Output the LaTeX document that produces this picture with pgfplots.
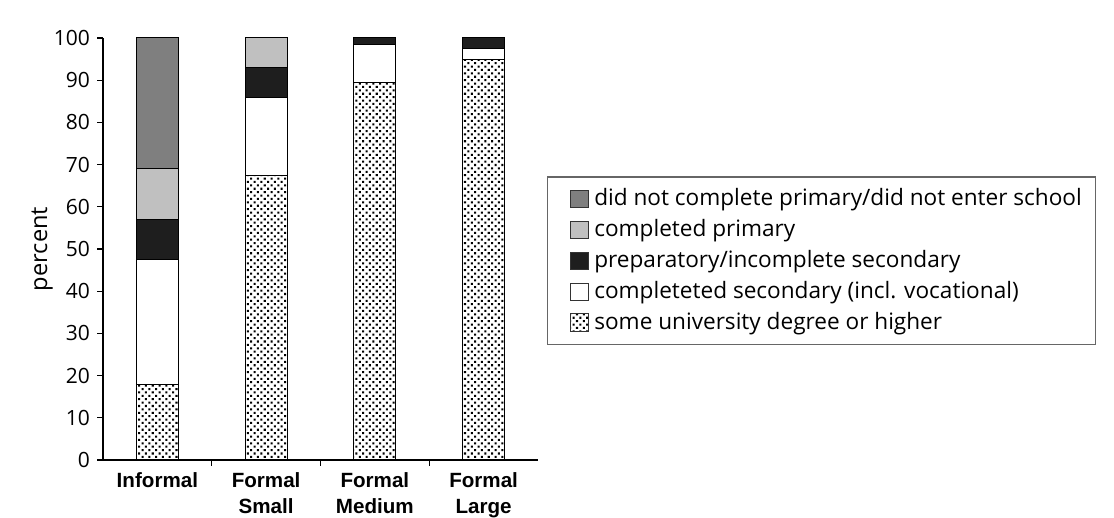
\documentclass[border=0pt]{standalone}
\usepackage{fontspec}
\setmainfont{Open Sans}
\newfontfamily\catfont{Liberation Sans}
\usepackage{pgfplots}
\pgfplotsset{compat=1.18}
\usetikzlibrary{patterns.meta}
\definecolor{dgray}{HTML}{7F7F7F}
\definecolor{lgray}{HTML}{C0C0C0}
\definecolor{nblack}{HTML}{1E1E1E}
\begin{document}
\begin{tikzpicture}
\useasboundingbox (0,0) rectangle (557pt,259pt);
\begin{axis}[
  at={(51.5pt,29pt)}, anchor=south west,
  scale only axis, width=217.5pt, height=211pt,
  ybar stacked, bar width=21pt,
  xmin=-0.5, xmax=3.5, ymin=0, ymax=100,
  enlargelimits=false,
  axis lines*=left,
  axis line style={black, line width=0.6pt},
  tick style={black, line width=0.6pt},
  tick align=outside,
  major tick length=3pt,
  ytick={0,10,...,100},
  xtick={0.5,1.5,2.5},
  xticklabels={},
  extra x ticks={0,1,2,3},
  extra x tick labels={Informal,{Formal\\Small},{Formal\\Medium},{Formal\\Large}},
  extra x tick style={major tick length=0pt, tick label style={font=\catfont\bfseries\fontsize{10.3}{13}\selectfont, align=center, anchor=north, yshift=-3pt}},
  /pgf/number format/assume math mode=true,
  yticklabel style={font=\fontsize{10.5}{12}\selectfont},
  ylabel={percent},
  ylabel style={font=\fontsize{11.8}{13}\selectfont, at={(axis description cs:-0.14,0.5)}, anchor=center},
  reverse legend,
  legend style={at={(rel axis cs:1.02,0.672)}, anchor=north west,
    draw=black!60, line width=0.6pt, font=\fontsize{11.3}{13}\selectfont,
    inner xsep=5pt, inner ysep=3.8pt, row sep=1.4pt,
    cells={anchor=west}},
  legend image code/.code={\path (0pt,0pt) (16pt,0pt); \draw[#1, draw=black!80, line width=0.5pt] (6.5pt,-4.3pt) rectangle (15.1pt,4.3pt);},
  every axis plot/.append style={draw=black, line width=0.5pt},
]
\addplot[pattern={Dots[distance=2.4pt, angle=45, radius=0.72pt]}, pattern color=black] coordinates {(0,18) (1,67.5) (2,89.5) (3,95)};
\addplot[fill=white] coordinates {(0,29.5) (1,18.5) (2,9) (3,2.5)};
\addplot[fill=nblack] coordinates {(0,9.5) (1,7) (2,1.5) (3,2.5)};
\addplot[fill=lgray] coordinates {(0,12) (1,7) (2,0) (3,0)};
\addplot[fill=dgray] coordinates {(0,31) (1,0) (2,0) (3,0)};
\legend{some university degree or higher, completeted secondary (incl. vocational), preparatory/incomplete secondary, completed primary, did not complete primary/did not enter school}
\end{axis}
\end{tikzpicture}
\end{document}
